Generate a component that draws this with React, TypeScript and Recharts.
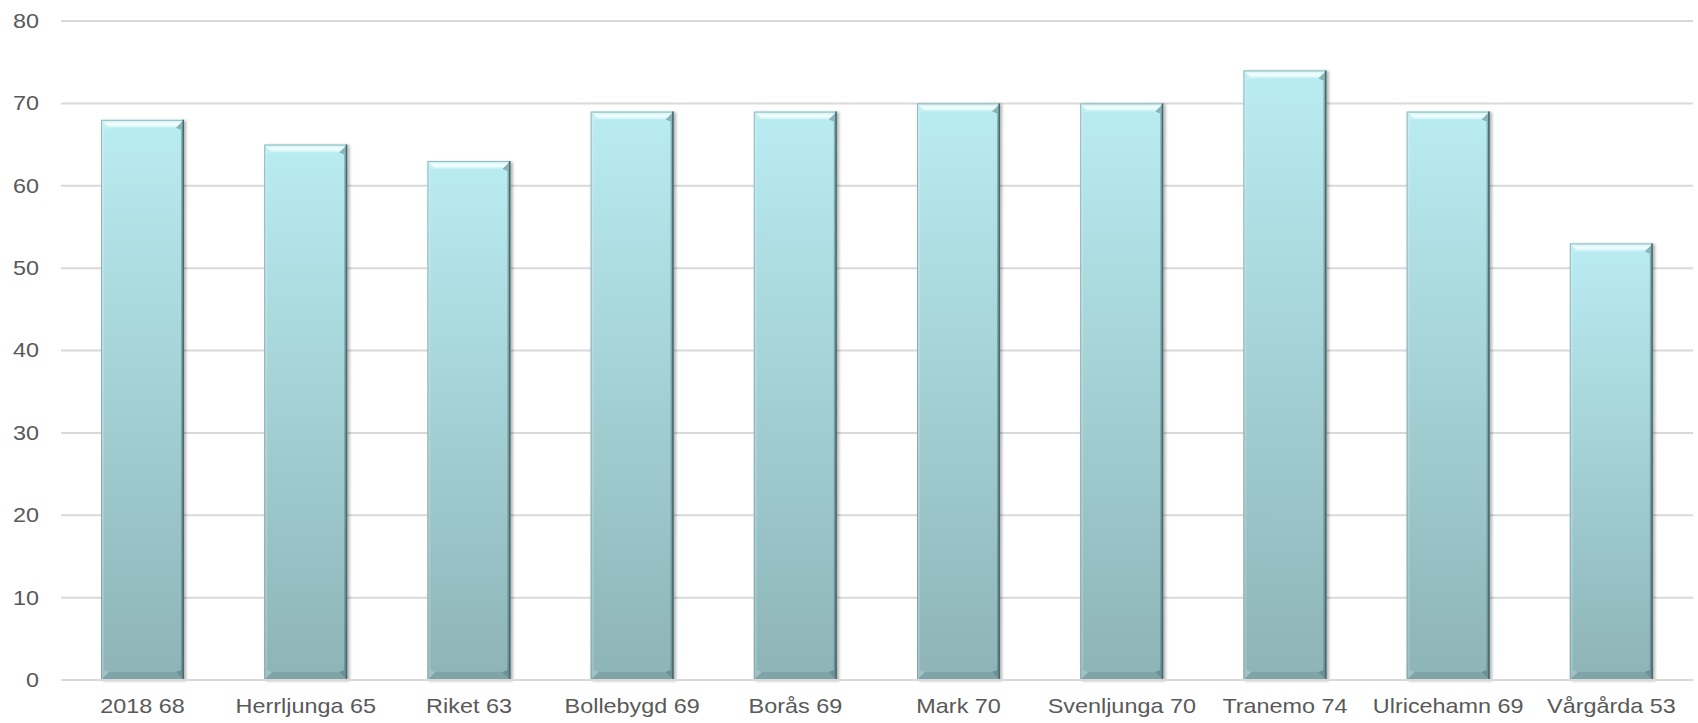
import React from 'react';
import { BarChart, Bar, XAxis, YAxis, CartesianGrid } from 'recharts';

const categories = ['2018 68', 'Herrljunga 65', 'Riket 63', 'Bollebygd 69', 'Borås 69', 'Mark 70', 'Svenljunga 70', 'Tranemo 74', 'Ulricehamn 69', 'Vårgårda 53'];
const values = [68, 65, 63, 69, 69, 70, 70, 74, 69, 53];
const yTicks = [0, 10, 20, 30, 40, 50, 60, 70, 80];

const data = categories.map((name, i) => ({ name, value: values[i] }));

const FONT = '"Liberation Sans", Arial, sans-serif';
const SX = 1.17;

const YTick = (props: any) => {
  const { x, y, payload } = props;
  return (
    <text
      transform={`translate(${x},${y}) scale(${SX},1)`}
      textAnchor="end"
      dominantBaseline="central"
      fill="#595959"
      fontSize={20}
      fontFamily={FONT}
    >
      {payload.value}
    </text>
  );
};

const XTick = (props: any) => {
  const { x, y, payload } = props;
  return (
    <text
      transform={`translate(${x},${y}) scale(${SX},1)`}
      textAnchor="middle"
      dy="0.71em"
      fill="#595959"
      fontSize={20}
      fontFamily={FONT}
    >
      {payload.value}
    </text>
  );
};

const BevelBar = (props: any) => {
  const { x, y, width: w, height: h } = props;
  if (!h || h <= 0) return null;
  const t = 8; // top/bottom bevel
  const s = 3; // side bevel
  return (
    <g filter="url(#barShadow)">
      <rect x={x} y={y} width={w} height={h} fill="url(#barGrad)" />
      {/* top bevel */}
      <polygon
        points={`${x},${y} ${x + w},${y} ${x + w - t},${y + t} ${x + t},${y + t}`}
        fill="url(#topBevel)"
      />
      {/* left bevel */}
      <polygon
        points={`${x},${y} ${x + t},${y + t} ${x + s},${y + t + 2} ${x + s},${y + h - t - 2} ${x + t},${y + h - t} ${x},${y + h}`}
        fill="#ffffff"
        fillOpacity={0.18}
      />
      {/* right bevel */}
      <polygon
        points={`${x + w},${y} ${x + w - t},${y + t} ${x + w - s},${y + t + 2} ${x + w - s},${y + h - t - 2} ${x + w - t},${y + h - t} ${x + w},${y + h}`}
        fill="#2f4f52"
        fillOpacity={0.35}
      />
      {/* bottom bevel */}
      <polygon
        points={`${x},${y + h} ${x + w},${y + h} ${x + w - t},${y + h - t} ${x + t},${y + h - t}`}
        fill="#3c6164"
        fillOpacity={0.18}
      />
      <rect x={x + 0.5} y={y + 0.5} width={w - 1} height={h - 1} fill="none" stroke="#6f9396" strokeOpacity={0.6} strokeWidth={1} />
      <line x1={x + w - 0.75} y1={y} x2={x + w - 0.75} y2={y + h} stroke="#4a6a6d" strokeWidth={1.5} />
    </g>
  );
};

export default function App() {
  return (
    <div style={{ position: 'absolute', left: 0, top: 0, width: 1698, height: 723, background: '#fff' }}>
      <BarChart
        width={1698}
        height={723}
        data={data}
        margin={{ top: 21, right: 5, bottom: 0, left: 0 }}
      >
        <defs>
          <linearGradient id="barGrad" x1="0" y1="0" x2="0" y2="1">
            <stop offset="0%" stopColor="#b9ecf1" />
            <stop offset="100%" stopColor="#8db4b7" />
          </linearGradient>
          <linearGradient id="topBevel" x1="0" y1="0" x2="0" y2="1">
            <stop offset="0%" stopColor="#c6f1f4" />
            <stop offset="55%" stopColor="#f6ffff" />
            <stop offset="100%" stopColor="#c4f0f4" />
          </linearGradient>
          <filter id="barShadow" x="-10%" y="-5%" width="120%" height="110%">
            <feDropShadow dx="2" dy="1" stdDeviation="1.5" floodColor="#000" floodOpacity="0.3" />
          </filter>
        </defs>
        <CartesianGrid vertical={false} stroke="#d9d9d9" strokeWidth={2} />
        <XAxis
          dataKey="name"
          height={43}
          tickLine={false}
          tickSize={0}
          tickMargin={19}
          axisLine={{ stroke: '#d9d9d9', strokeWidth: 2 }}
          tick={<XTick />}
          interval={0}
        />
        <YAxis
          width={61}
          domain={[0, 80]}
          ticks={yTicks}
          tickLine={false}
          tickSize={0}
          tickMargin={22}
          axisLine={false}
          tick={<YTick />}
          interval={0}
        />
        <Bar dataKey="value" barSize={83} shape={<BevelBar />} isAnimationActive={false} />
      </BarChart>
    </div>
  );
}
